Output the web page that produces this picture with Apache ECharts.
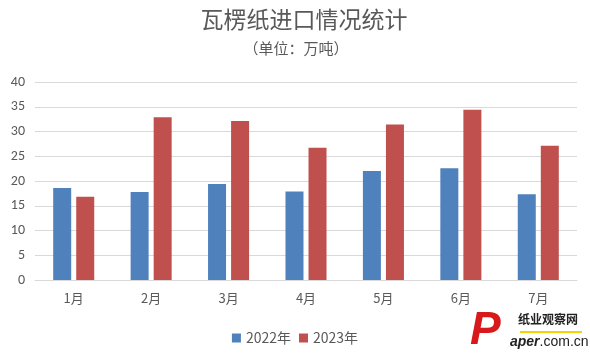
<!DOCTYPE html>
<html>
<head>
<meta charset="utf-8">
<script src="https://cdn.jsdelivr.net/npm/echarts@6/dist/echarts.min.js"></script>
<style>
  html, body { margin: 0; padding: 0; background: #fff; }
  #main { width: 590px; height: 354px; }
</style>
</head>
<body>
<div id="main"></div>
<script>
var months = ['1月', '2月', '3月', '4月', '5月', '6月', '7月'];
var data2022 = [18.6, 17.8, 19.4, 17.9, 22.0, 22.6, 17.3];
var data2023 = [16.8, 32.9, 32.1, 26.7, 31.4, 34.4, 27.1];
var seriesNames = ['2022年', '2023年'];

var chart = echarts.init(document.getElementById('main'));
var fontCn = '"Microsoft YaHei", "Noto Sans CJK SC", sans-serif';

var option = {
    backgroundColor: '#fff',
    animation: false,
    title: [{
        text: '瓦楞纸进口情况统计',
        left: 304,
        textAlign: 'center',
        top: 8,
        padding: 0,
        textStyle: { color: '#595959', fontSize: 23, fontWeight: 'normal', fontFamily: fontCn }
    }, {
        text: '（单位：万吨）',
        left: 296,
        textAlign: 'center',
        top: 41,
        padding: 0,
        textStyle: { color: '#595959', fontSize: 15, fontWeight: 'normal', fontFamily: fontCn }
    }],
    legend: {
        top: 326,
        left: 'center',
        itemWidth: 9,
        itemHeight: 9,
        itemGap: 8,
        icon: 'rect',
        textStyle: { color: '#595959', fontSize: 14, fontFamily: fontCn },
        data: seriesNames
    },
    grid: { left: 35, right: 13, top: 82, bottom: 74 },
    xAxis: {
        type: 'category',
        data: months,
        axisLine: { lineStyle: { color: '#d9d9d9' } },
        axisTick: { show: false },
        axisLabel: { color: '#595959', fontSize: 13, margin: 12, fontFamily: fontCn }
    },
    yAxis: {
        type: 'value',
        min: 0,
        max: 40,
        interval: 5,
        axisLine: { show: false },
        axisTick: { show: false },
        axisLabel: { color: '#595959', fontSize: 14, margin: 10, fontFamily: 'Calibri, "Liberation Sans", sans-serif' },
        splitLine: { lineStyle: { color: '#d9d9d9' } }
    },
    series: [{
        name: seriesNames[0],
        type: 'bar',
        data: data2022,
        barWidth: 18,
        barGap: '28%',
        itemStyle: { color: '#4f81bd' }
    }, {
        name: seriesNames[1],
        type: 'bar',
        data: data2023,
        barWidth: 18,
        itemStyle: { color: '#c0504d' }
    }],
    graphic: [{
        type: 'text',
        left: 518,
        top: 313,
        style: { text: '纸业观察网', fill: '#222', font: 'bold 12px "Noto Sans CJK SC", sans-serif' }
    }, {
        type: 'rect',
        left: 520,
        top: 331,
        shape: { width: 62, height: 2 },
        style: { fill: '#f5d400' }
    }, {
        type: 'text',
        left: 510,
        top: 335,
        style: {
            text: '{a|aper}{b|.com.cn}',
            rich: {
                a: { fill: '#222', font: 'italic bold 14px "Liberation Sans", sans-serif' },
                b: { fill: '#222', font: '14px "Liberation Sans", sans-serif' }
            }
        }
    }, {
        type: 'text',
        left: 470,
        top: 308,
        style: { text: 'P', fill: '#d7191c', font: 'italic bold 46px "Liberation Sans", sans-serif' }
    }]
};
chart.setOption(option);
</script>
</body>
</html>
